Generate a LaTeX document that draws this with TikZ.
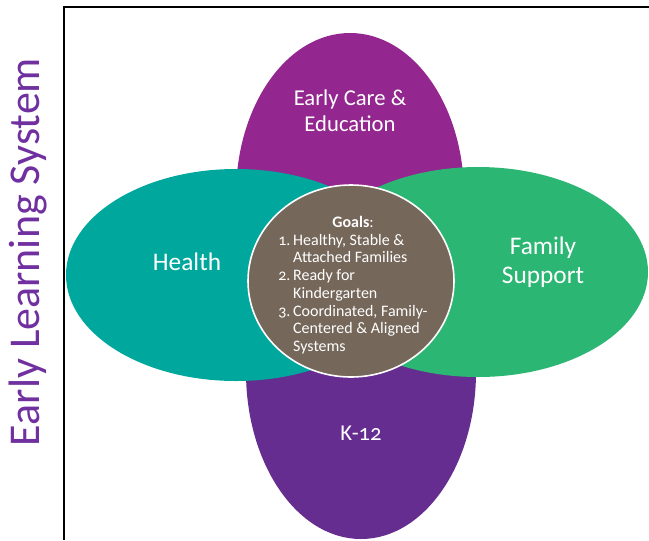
\documentclass[tikz,border=0pt]{standalone}
\usepackage{fontspec}
\setmainfont{Carlito}[Numbers=OldStyle]
\usetikzlibrary{shapes.geometric}

\definecolor{careC}{HTML}{93278F}
\definecolor{kC}{HTML}{662D91}
\definecolor{healthC}{HTML}{00A79D}
\definecolor{familyC}{HTML}{2BB673}
\definecolor{goalsC}{HTML}{75675A}
\definecolor{titleC}{HTML}{7030A0}

\tikzset{
  petal/.style={ellipse, inner sep=0pt, draw=none},
  petaltext/.style={text=white, align=center, inner sep=0pt}
}

\begin{document}
\begin{tikzpicture}[x=0.75pt, y=-0.75pt, line width = 1.5pt]

\useasboundingbox (0,0) rectangle (649,540);

\draw (64,540) coordinate (frameA) -- (64,7) coordinate (frameB) -- (649,7) coordinate (frameC);

\node [rotate=90, text=titleC, font=\fontsize{33}{36}\selectfont] (title) at (28,252) {Early Learning System};

\node [petal, fill=careC, minimum width=171pt, minimum height=243pt] (careEll) at (350,195) {};

\node [petal, fill=kC, minimum width=172.5pt, minimum height=250.5pt] (kEll) at (361,372) {};

\node [petal, fill=healthC, minimum width=255pt, minimum height=159pt] (healthEll) at (236,275) {};

\node [petal, fill=familyC, minimum width=255pt, minimum height=157.5pt] (familyEll) at (478,272) {};

\node [petal, fill=goalsC, draw=white, line width=1.2pt, minimum width=154.5pt, minimum height=144pt] (goalsCirc) at (351,281) {};

\node [petaltext, font=\fontsize{17}{19.5}\selectfont] (careText) at (350,111) {Early Care \&\\Education};

\node [petaltext, font=\fontsize{19}{21.75}\selectfont] (healthText) at (187,262) {Health};

\node [petaltext, font=\fontsize{19}{21.75}\selectfont] (familyText) at (543,262) {Family\\Support};

\node [petaltext, font=\fontsize{17}{19.5}\selectfont] (kText) at (361,433) {K-12};

\node [petaltext, font=\fontsize{12}{13.3}\selectfont] (goalsText) at (353,286) {%
\begin{tabular}{@{}r@{\,}l@{}}
\multicolumn{2}{c}{\textbf{Goals}:}\\
1. & Healthy, Stable \&\\
   & Attached Families\\
2. & Ready for\\
   & Kindergarten\\
3. & Coordinated, Family-\\
   & Centered \& Aligned\\
   & Systems
\end{tabular}};

\end{tikzpicture}
\end{document}
